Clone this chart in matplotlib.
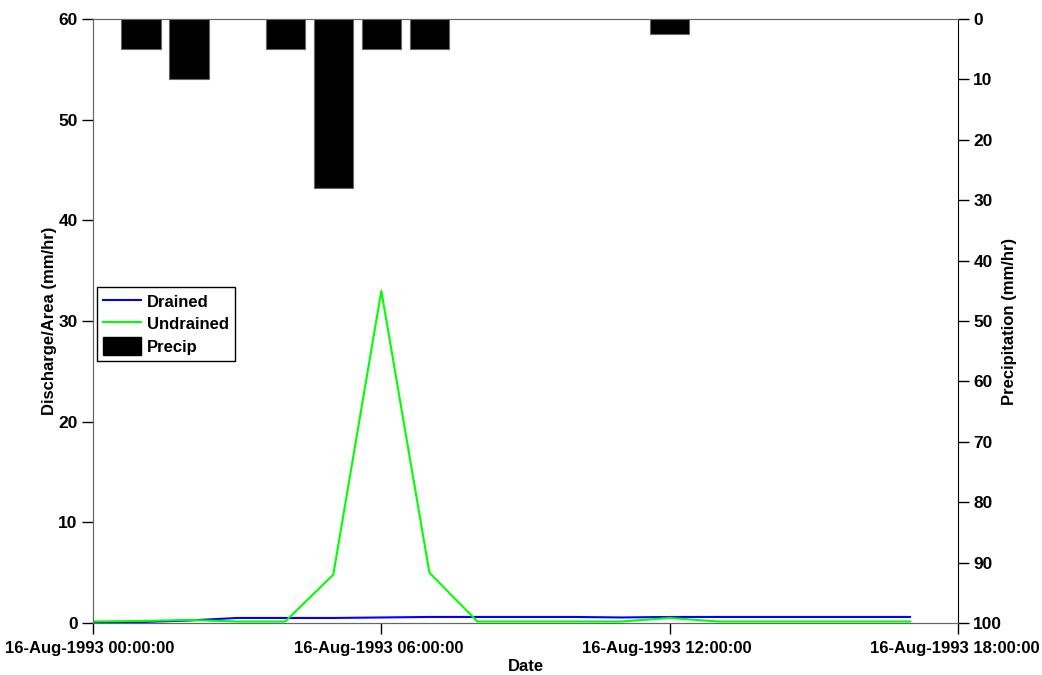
import datetime as dt
import matplotlib
matplotlib.use("Agg")
import matplotlib.pyplot as plt
import matplotlib.dates as mdates
import matplotlib.transforms as mtransforms
from matplotlib.lines import Line2D
from matplotlib.patches import Patch

plt.rcParams['font.family'] = ['Liberation Sans', 'DejaVu Sans']
plt.rcParams['font.weight'] = 'bold'

# Hourly series, 16 Aug 1993
start = dt.datetime(1993, 8, 16, 0, 0, 0)
hours = list(range(18))
drained = [0.05, 0.1, 0.25, 0.5, 0.5, 0.5, 0.55, 0.6, 0.6, 0.6,
           0.6, 0.55, 0.6, 0.6, 0.6, 0.6, 0.6, 0.6]
undrained = [0.15, 0.2, 0.3, 0.15, 0.15, 4.8, 33.0, 5.0, 0.15, 0.15,
             0.15, 0.15, 0.5, 0.15, 0.15, 0.15, 0.15, 0.15]

precip_hours = [1, 2, 4, 5, 6, 7, 12]
precip = [5, 10, 5, 28, 5, 5, 2.5]

times = [start + dt.timedelta(hours=h) for h in hours]
ptimes = [start + dt.timedelta(hours=h) for h in precip_hours]

fig = plt.figure(figsize=(10.42, 6.75), dpi=100)
ax = fig.add_axes([93 / 1042, 1 - 623 / 675, 865 / 1042, 604 / 675])
ax2 = ax.twinx()

ax.plot(times, drained, color='#0000FF', lw=1.5, zorder=3)
ax.plot(times, undrained, color='#00FF00', lw=1.5, zorder=3)

bar_w = 0.82 / 24
ax2.bar(ptimes, precip, width=bar_w, color='black', edgecolor='#666666',
        linewidth=0.8, align='center')

ax.set_xlim(start, start + dt.timedelta(hours=18))
ax.set_ylim(0, 60)
ax2.set_ylim(100, 0)

ax.xaxis.set_major_locator(mdates.HourLocator(byhour=[0, 6, 12, 18]))
ax.xaxis.set_major_formatter(mdates.DateFormatter('%d-%b-%Y %H:%M:%S'))
ax.set_yticks(range(0, 61, 10))
ax2.set_yticks(range(0, 101, 10))

for a in (ax, ax2):
    a.tick_params(direction='out', length=8, width=1, labelsize=12.5,
                  colors='black', pad=3)
    for lab in a.get_xticklabels() + a.get_yticklabels():
        lab.set_fontweight('bold')
ax.tick_params(axis='x', pad=5, labelsize=12)

# nudge the date labels a little to the left of their ticks
shift = mtransforms.ScaledTranslation(-3 / 100, 0, fig.dpi_scale_trans)
for lab in ax.get_xticklabels():
    lab.set_transform(lab.get_transform() + shift)

for name in ('left', 'bottom', 'top'):
    ax.spines[name].set_color('#666666')
    ax2.spines[name].set_color('#666666')
ax2.spines['right'].set_color('black')
ax.spines['right'].set_visible(False)

ax.set_xlabel('Date', fontsize=12, fontweight='bold', labelpad=2)
ax.set_ylabel('Discharge/Area (mm/hr)', fontsize=12, fontweight='bold',
              labelpad=1)
ax2.set_ylabel('Precipitation (mm/hr)', fontsize=12, fontweight='bold',
               labelpad=0)

handles = [Line2D([], [], color='#0000FF', lw=1.5),
           Line2D([], [], color='#00FF00', lw=1.5),
           Patch(facecolor='black', edgecolor='black')]
leg = ax2.legend(handles, ['Drained', 'Undrained', 'Precip'],
                 loc='upper left', bbox_to_anchor=(0.005, 0.557),
                 borderaxespad=0, fancybox=False, framealpha=1,
                 edgecolor='black', handlelength=2.3,
                 handleheight=1.3, labelspacing=0.25, handletextpad=0.35,
                 borderpad=0.35, prop={'weight': 'bold', 'size': 12})
leg.get_frame().set_linewidth(1.0)

fig.savefig('out.png', dpi=100)
